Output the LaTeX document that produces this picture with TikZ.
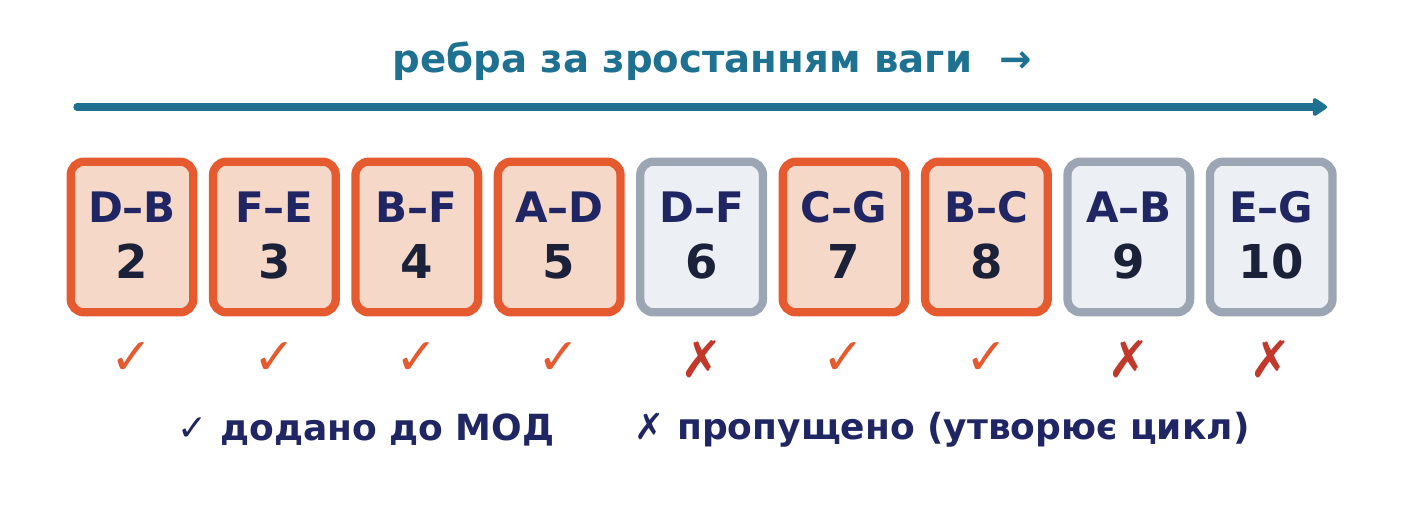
\documentclass[tikz,border=0pt]{standalone}
\usepackage{fontspec}
\setmainfont{DejaVu Sans}
\usepackage{tikz}
\usetikzlibrary{arrows.meta}

\definecolor{teal}{HTML}{1E7191}
\definecolor{kept}{HTML}{E55A2F}
\definecolor{keptfill}{HTML}{F6D8C8}
\definecolor{skip}{HTML}{9CA5B3}
\definecolor{skipfill}{HTML}{ECEFF4}
\definecolor{navy}{HTML}{1F2663}
\definecolor{ink}{HTML}{1B2139}
\definecolor{cross}{HTML}{C0392B}

\begin{document}
\begin{tikzpicture}[x=0.75pt,y=-0.75pt,
    edgebox/.style={rectangle,rounded corners=10pt,line width=6.2pt,minimum width=92pt,minimum height=113pt},
    keptbox/.style={edgebox,draw=kept,fill=keptfill},
    skipbox/.style={edgebox,draw=skip,fill=skipfill},
    lbl/.style={anchor=base,text=navy,font=\fontsize{31.5}{36}\selectfont\bfseries},
    num/.style={anchor=base,text=ink,font=\fontsize{35}{40}\selectfont\bfseries},
    tick/.style={text=kept,font=\fontsize{38}{42}\selectfont\bfseries},
    notick/.style={text=cross,font=\fontsize{38}{42}\selectfont\bfseries},
    legend/.style={text=navy,font=\fontsize{27}{32}\selectfont\bfseries}]
        \useasboundingbox (0,0) rectangle (1402,518);
        \node[text=teal,font=\fontsize{29}{34}\selectfont\bfseries] (title) at (712,61) {ребра за зростанням ваги\ \ →};
        \coordinate (from) at (77,107);
        \coordinate (to) at (1327,107);
        \draw[teal,line width=5.5pt,line cap=round,-{Triangle[length=12pt,width=15pt,round]}] (from) -- (to);
        \foreach \i/\e/\w/\s in {1/D–B/2/kept,2/F–E/3/kept,3/B–F/4/kept,4/A–D/5/kept,5/D–F/6/skip,6/C–G/7/kept,7/B–C/8/kept,8/A–B/9/skip,9/E–G/10/skip}{
            \node[\s box] (e\i) at ({132+142.4*(\i-1)},237) {};
            \node[lbl] (l\i) at ({132+142.4*(\i-1)},222) {\e};
            \node[num] (n\i) at ({132+142.4*(\i-1)},278) {\w};
        }
        \foreach \i in {1,2,3,4,6,7}
            \node[tick] (c\i) at ({132+142.4*(\i-1)},359) {✓};
        \foreach \i in {5,8,9}
            \node[notick] (c\i) at ({132+142.4*(\i-1)},359) {✗};
        \node[legend] (added) at (366,430) {✓ додано до МОД};
        \node[legend] (skipped) at (942,430) {✗ пропущено (утворює цикл)};
    \end{tikzpicture}
\end{document}
